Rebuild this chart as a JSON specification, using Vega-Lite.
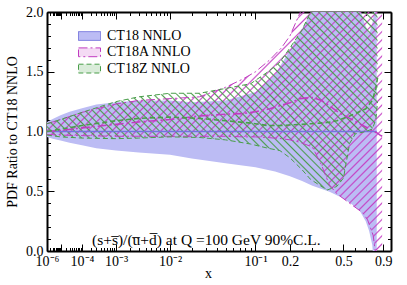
{
  "$schema": "https://vega.github.io/schema/vega-lite/v6.json",
  "width": 344,
  "height": 239,
  "autosize": {"type": "none"},
  "padding": {"left": 47, "top": 12, "right": 16, "bottom": 34},
  "background": "white",
  "config": {
    "view": {"stroke": null},
    "axis": {
      "labelFont": "Liberation Serif", "labelFontSize": 14, "labelColor": "black",
      "tickColor": "black", "domainColor": "black", "domainWidth": 2, "tickWidth": 1,
      "grid": false, "titleFont": "Liberation Serif", "titleFontWeight": "normal",
      "titleColor": "black", "titleFontSize": 14, "zindex": 1,
      "labelFlush": false, "labelOverlap": false, "labelBound": false
    }
  },
  "datasets": {
    "bands": [
      {"set": "CT18 NNLO", "x": 1e-6, "lo": 0.955, "hi": 1.08, "c": 1},
      {"set": "CT18 NNLO", "x": 3e-6, "lo": 0.94, "hi": 1.105, "c": 1},
      {"set": "CT18 NNLO", "x": 1e-5, "lo": 0.925, "hi": 1.135, "c": 1},
      {"set": "CT18 NNLO", "x": 3e-5, "lo": 0.905, "hi": 1.165, "c": 1},
      {"set": "CT18 NNLO", "x": 1e-4, "lo": 0.885, "hi": 1.195, "c": 1},
      {"set": "CT18 NNLO", "x": 3e-4, "lo": 0.86, "hi": 1.225, "c": 1},
      {"set": "CT18 NNLO", "x": 1e-3, "lo": 0.84, "hi": 1.245, "c": 1},
      {"set": "CT18 NNLO", "x": 3e-3, "lo": 0.825, "hi": 1.26, "c": 1},
      {"set": "CT18 NNLO", "x": 1e-2, "lo": 0.805, "hi": 1.26, "c": 1},
      {"set": "CT18 NNLO", "x": 2e-2, "lo": 0.775, "hi": 1.245, "c": 1},
      {"set": "CT18 NNLO", "x": 5e-2, "lo": 0.735, "hi": 1.26, "c": 1},
      {"set": "CT18 NNLO", "x": 0.1, "lo": 0.70, "hi": 1.33, "c": 1},
      {"set": "CT18 NNLO", "x": 0.15, "lo": 0.665, "hi": 1.48, "c": 1},
      {"set": "CT18 NNLO", "x": 0.2, "lo": 0.625, "hi": 1.68, "c": 1},
      {"set": "CT18 NNLO", "x": 0.25, "lo": 0.585, "hi": 1.86, "c": 1},
      {"set": "CT18 NNLO", "x": 0.3, "lo": 0.545, "hi": 2.02, "c": 1},
      {"set": "CT18 NNLO", "x": 0.4, "lo": 0.495, "hi": 2.3, "c": 1},
      {"set": "CT18 NNLO", "x": 0.5, "lo": 0.44, "hi": 2.4, "c": 1},
      {"set": "CT18 NNLO", "x": 0.6, "lo": 0.37, "hi": 2.25, "c": 1},
      {"set": "CT18 NNLO", "x": 0.645, "lo": 0.33, "hi": 2.02, "c": 1},
      {"set": "CT18 NNLO", "x": 0.7, "lo": 0.25, "hi": 1.88, "c": 1},
      {"set": "CT18 NNLO", "x": 0.735, "lo": 0.17, "hi": 1.82, "c": 1},
      {"set": "CT18 NNLO", "x": 0.77, "lo": 0.05, "hi": 1.9, "c": 1},
      {"set": "CT18 NNLO", "x": 0.8, "lo": -0.25, "hi": 2.05, "c": 1},
      {"set": "CT18 NNLO", "x": 0.82, "lo": -0.6, "hi": 2.3, "c": 1},
      {"set": "CT18A NNLO", "x": 1e-6, "lo": 0.975, "hi": 1.065, "c": 1.0},
      {"set": "CT18A NNLO", "x": 1e-5, "lo": 0.97, "hi": 1.10, "c": 1.01},
      {"set": "CT18A NNLO", "x": 1e-4, "lo": 0.965, "hi": 1.16, "c": 1.03},
      {"set": "CT18A NNLO", "x": 1e-3, "lo": 0.96, "hi": 1.23, "c": 1.06},
      {"set": "CT18A NNLO", "x": 3e-3, "lo": 0.96, "hi": 1.26, "c": 1.08},
      {"set": "CT18A NNLO", "x": 1e-2, "lo": 0.96, "hi": 1.275, "c": 1.10},
      {"set": "CT18A NNLO", "x": 2.5e-2, "lo": 0.96, "hi": 1.29, "c": 1.13},
      {"set": "CT18A NNLO", "x": 5e-2, "lo": 0.96, "hi": 1.37, "c": 1.145},
      {"set": "CT18A NNLO", "x": 0.076, "lo": 0.955, "hi": 1.44, "c": 1.15},
      {"set": "CT18A NNLO", "x": 0.1, "lo": 0.955, "hi": 1.50, "c": 1.165},
      {"set": "CT18A NNLO", "x": 0.135, "lo": 0.948, "hi": 1.60, "c": 1.19},
      {"set": "CT18A NNLO", "x": 0.17, "lo": 0.94, "hi": 1.70, "c": 1.22},
      {"set": "CT18A NNLO", "x": 0.2, "lo": 0.93, "hi": 1.80, "c": 1.24},
      {"set": "CT18A NNLO", "x": 0.24, "lo": 0.91, "hi": 1.99, "c": 1.275},
      {"set": "CT18A NNLO", "x": 0.3, "lo": 0.87, "hi": 2.2, "c": 1.285},
      {"set": "CT18A NNLO", "x": 0.35, "lo": 0.72, "hi": 2.25, "c": 1.26},
      {"set": "CT18A NNLO", "x": 0.4, "lo": 0.55, "hi": 2.25, "c": 1.215},
      {"set": "CT18A NNLO", "x": 0.45, "lo": 0.48, "hi": 2.25, "c": 1.17},
      {"set": "CT18A NNLO", "x": 0.55, "lo": 0.40, "hi": 2.25, "c": 1.11},
      {"set": "CT18A NNLO", "x": 0.67, "lo": 0.32, "hi": 2.25, "c": 1.05},
      {"set": "CT18A NNLO", "x": 0.72, "lo": 0.26, "hi": 2.25, "c": 1.03},
      {"set": "CT18A NNLO", "x": 0.78, "lo": 0.13, "hi": 2.25, "c": 1.0},
      {"set": "CT18A NNLO", "x": 0.82, "lo": -0.1, "hi": 2.25, "c": 0.99},
      {"set": "CT18A NNLO", "x": 0.86, "lo": -0.3, "hi": 2.25, "c": 0.97},
      {"set": "CT18A NNLO", "x": 0.885, "lo": -0.4, "hi": 2.25, "c": 0.96},
      {"set": "CT18Z NNLO", "x": 1e-6, "lo": 0.97, "hi": 1.065, "c": 1.0},
      {"set": "CT18Z NNLO", "x": 1e-5, "lo": 0.955, "hi": 1.10, "c": 1.02},
      {"set": "CT18Z NNLO", "x": 1e-4, "lo": 0.945, "hi": 1.16, "c": 1.05},
      {"set": "CT18Z NNLO", "x": 1e-3, "lo": 0.94, "hi": 1.25, "c": 1.09},
      {"set": "CT18Z NNLO", "x": 3e-3, "lo": 0.945, "hi": 1.29, "c": 1.11},
      {"set": "CT18Z NNLO", "x": 1e-2, "lo": 0.955, "hi": 1.32, "c": 1.12},
      {"set": "CT18Z NNLO", "x": 2.5e-2, "lo": 0.95, "hi": 1.32, "c": 1.11},
      {"set": "CT18Z NNLO", "x": 5e-2, "lo": 0.93, "hi": 1.36, "c": 1.09},
      {"set": "CT18Z NNLO", "x": 0.09, "lo": 0.895, "hi": 1.40, "c": 1.07},
      {"set": "CT18Z NNLO", "x": 0.13, "lo": 0.86, "hi": 1.50, "c": 1.05},
      {"set": "CT18Z NNLO", "x": 0.165, "lo": 0.84, "hi": 1.58, "c": 1.05},
      {"set": "CT18Z NNLO", "x": 0.2, "lo": 0.78, "hi": 1.70, "c": 1.055},
      {"set": "CT18Z NNLO", "x": 0.25, "lo": 0.68, "hi": 1.85, "c": 1.06},
      {"set": "CT18Z NNLO", "x": 0.29, "lo": 0.60, "hi": 2.0, "c": 1.065},
      {"set": "CT18Z NNLO", "x": 0.34, "lo": 0.55, "hi": 2.2, "c": 1.07},
      {"set": "CT18Z NNLO", "x": 0.384, "lo": 0.51, "hi": 2.25, "c": 1.075},
      {"set": "CT18Z NNLO", "x": 0.45, "lo": 0.54, "hi": 2.25, "c": 1.09},
      {"set": "CT18Z NNLO", "x": 0.5, "lo": 0.61, "hi": 2.25, "c": 1.11},
      {"set": "CT18Z NNLO", "x": 0.55, "lo": 0.90, "hi": 2.25, "c": 1.13},
      {"set": "CT18Z NNLO", "x": 0.6, "lo": 0.98, "hi": 2.25, "c": 1.15},
      {"set": "CT18Z NNLO", "x": 0.7, "lo": 1.0, "hi": 2.25, "c": 1.19},
      {"set": "CT18Z NNLO", "x": 0.77, "lo": 1.02, "hi": 2.25, "c": 1.26},
      {"set": "CT18Z NNLO", "x": 0.81, "lo": 1.1, "hi": 2.25, "c": 1.36},
      {"set": "CT18Z NNLO", "x": 0.83, "lo": 1.25, "hi": 2.25, "c": 1.45}
    ]
  },
  "data": {"name": "bands"},
  "resolve": {"axis": {"x": "independent", "y": "independent"}},
  "layer": [
    {
      "transform": [{"filter": "datum.set === 'CT18 NNLO'"}],
      "mark": {"type": "area", "clip": true},
      "encoding": {
        "x": {"field": "x", "type": "quantitative",
          "scale": {"type": "pow", "exponent": 0.2, "domain": [1e-6, 1], "nice": false, "zero": false},
          "axis": {"orient": "bottom", "values": [1e-6, 1e-5, 1e-4, 1e-3, 1e-2, 0.1, 0.2, 0.5, 0.9],
            "labelExpr": "datum.value < 2e-6 ? '10⁻⁶' : datum.value < 2e-5 ? '' : datum.value < 2e-4 ? '10⁻⁴' : datum.value < 2e-3 ? '10⁻³' : datum.value < 2e-2 ? '10⁻²' : datum.value < 0.15 ? '10⁻¹' : format(datum.value, '.1f')",
            "tickSize": -7, "labelPadding": 10, "title": "x", "titleX": 161, "titleY": 15, "titleBaseline": "top"}},
        "y": {"field": "lo", "type": "quantitative",
          "scale": {"domain": [0, 2], "nice": false, "zero": false},
          "axis": {"orient": "left", "values": [0, 0.5, 1, 1.5, 2], "format": ".1f", "tickSize": -7,
            "labelPadding": 11, "title": "PDF Ratio to CT18 NNLO", "titlePadding": 6}},
        "y2": {"field": "hi"},
        "fill": {"field": "set", "type": "nominal",
          "scale": {"domain": ["CT18 NNLO", "CT18A NNLO", "CT18Z NNLO"],
            "range": ["#bcbcf4", "rgba(200,70,200,0.2)", "rgba(70,160,70,0.2)"]},
          "legend": {"orient": "none", "legendX": 31, "legendY": 17, "title": null,
            "symbolType": "M-1,-0.4L1,-0.4L1,0.4L-1,0.4Z", "symbolSize": 484,
            "labelFont": "Liberation Serif", "labelFontSize": 14, "labelColor": "black",
            "labelOffset": 6, "rowPadding": 2.3, "clipHeight": 14, "padding": 0,
            "symbolStrokeWidth": 1,
            "encode": {"symbols": {"update": {
              "stroke": {"signal": "datum.value === 'CT18 NNLO' ? '#8c8ce6' : datum.value === 'CT18A NNLO' ? '#c03cc0' : '#4a9e4a'"},
              "strokeWidth": {"value": 1}
            }}}}}
      }
    },
    {
      "transform": [{"filter": "datum.set === 'CT18A NNLO'"}],
      "mark": {"type": "area", "clip": true,
        "fill": {"gradient": "linear", "x1": 0, "y1": 0, "x2": 1.03, "y2": 0.97, "stops": [
          {"offset": 0, "color": "rgba(196,64,196,0)"}, {"offset": 0.0025, "color": "rgba(196,64,196,0.95)"}, {"offset": 0.005, "color": "rgba(196,64,196,0)"},
          {"offset": 0.0125, "color": "rgba(196,64,196,0)"}, {"offset": 0.015, "color": "rgba(196,64,196,0.95)"}, {"offset": 0.0175, "color": "rgba(196,64,196,0)"},
          {"offset": 0.025, "color": "rgba(196,64,196,0)"}, {"offset": 0.0275, "color": "rgba(196,64,196,0.95)"}, {"offset": 0.03, "color": "rgba(196,64,196,0)"},
          {"offset": 0.0375, "color": "rgba(196,64,196,0)"}, {"offset": 0.04, "color": "rgba(196,64,196,0.95)"}, {"offset": 0.0425, "color": "rgba(196,64,196,0)"},
          {"offset": 0.05, "color": "rgba(196,64,196,0)"}, {"offset": 0.0525, "color": "rgba(196,64,196,0.95)"}, {"offset": 0.055, "color": "rgba(196,64,196,0)"},
          {"offset": 0.0625, "color": "rgba(196,64,196,0)"}, {"offset": 0.065, "color": "rgba(196,64,196,0.95)"}, {"offset": 0.0675, "color": "rgba(196,64,196,0)"},
          {"offset": 0.075, "color": "rgba(196,64,196,0)"}, {"offset": 0.0775, "color": "rgba(196,64,196,0.95)"}, {"offset": 0.08, "color": "rgba(196,64,196,0)"},
          {"offset": 0.0875, "color": "rgba(196,64,196,0)"}, {"offset": 0.09, "color": "rgba(196,64,196,0.95)"}, {"offset": 0.0925, "color": "rgba(196,64,196,0)"},
          {"offset": 0.1, "color": "rgba(196,64,196,0)"}, {"offset": 0.1025, "color": "rgba(196,64,196,0.95)"}, {"offset": 0.105, "color": "rgba(196,64,196,0)"},
          {"offset": 0.1125, "color": "rgba(196,64,196,0)"}, {"offset": 0.115, "color": "rgba(196,64,196,0.95)"}, {"offset": 0.1175, "color": "rgba(196,64,196,0)"},
          {"offset": 0.125, "color": "rgba(196,64,196,0)"}, {"offset": 0.1275, "color": "rgba(196,64,196,0.95)"}, {"offset": 0.13, "color": "rgba(196,64,196,0)"},
          {"offset": 0.1375, "color": "rgba(196,64,196,0)"}, {"offset": 0.14, "color": "rgba(196,64,196,0.95)"}, {"offset": 0.1425, "color": "rgba(196,64,196,0)"},
          {"offset": 0.15, "color": "rgba(196,64,196,0)"}, {"offset": 0.1525, "color": "rgba(196,64,196,0.95)"}, {"offset": 0.155, "color": "rgba(196,64,196,0)"},
          {"offset": 0.1625, "color": "rgba(196,64,196,0)"}, {"offset": 0.165, "color": "rgba(196,64,196,0.95)"}, {"offset": 0.1675, "color": "rgba(196,64,196,0)"},
          {"offset": 0.175, "color": "rgba(196,64,196,0)"}, {"offset": 0.1775, "color": "rgba(196,64,196,0.95)"}, {"offset": 0.18, "color": "rgba(196,64,196,0)"},
          {"offset": 0.1875, "color": "rgba(196,64,196,0)"}, {"offset": 0.19, "color": "rgba(196,64,196,0.95)"}, {"offset": 0.1925, "color": "rgba(196,64,196,0)"},
          {"offset": 0.2, "color": "rgba(196,64,196,0)"}, {"offset": 0.2025, "color": "rgba(196,64,196,0.95)"}, {"offset": 0.205, "color": "rgba(196,64,196,0)"},
          {"offset": 0.2125, "color": "rgba(196,64,196,0)"}, {"offset": 0.215, "color": "rgba(196,64,196,0.95)"}, {"offset": 0.2175, "color": "rgba(196,64,196,0)"},
          {"offset": 0.225, "color": "rgba(196,64,196,0)"}, {"offset": 0.2275, "color": "rgba(196,64,196,0.95)"}, {"offset": 0.23, "color": "rgba(196,64,196,0)"},
          {"offset": 0.2375, "color": "rgba(196,64,196,0)"}, {"offset": 0.24, "color": "rgba(196,64,196,0.95)"}, {"offset": 0.2425, "color": "rgba(196,64,196,0)"},
          {"offset": 0.25, "color": "rgba(196,64,196,0)"}, {"offset": 0.2525, "color": "rgba(196,64,196,0.95)"}, {"offset": 0.255, "color": "rgba(196,64,196,0)"},
          {"offset": 0.2625, "color": "rgba(196,64,196,0)"}, {"offset": 0.265, "color": "rgba(196,64,196,0.95)"}, {"offset": 0.2675, "color": "rgba(196,64,196,0)"},
          {"offset": 0.275, "color": "rgba(196,64,196,0)"}, {"offset": 0.2775, "color": "rgba(196,64,196,0.95)"}, {"offset": 0.28, "color": "rgba(196,64,196,0)"},
          {"offset": 0.2875, "color": "rgba(196,64,196,0)"}, {"offset": 0.29, "color": "rgba(196,64,196,0.95)"}, {"offset": 0.2925, "color": "rgba(196,64,196,0)"},
          {"offset": 0.3, "color": "rgba(196,64,196,0)"}, {"offset": 0.3025, "color": "rgba(196,64,196,0.95)"}, {"offset": 0.305, "color": "rgba(196,64,196,0)"},
          {"offset": 0.3125, "color": "rgba(196,64,196,0)"}, {"offset": 0.315, "color": "rgba(196,64,196,0.95)"}, {"offset": 0.3175, "color": "rgba(196,64,196,0)"},
          {"offset": 0.325, "color": "rgba(196,64,196,0)"}, {"offset": 0.3275, "color": "rgba(196,64,196,0.95)"}, {"offset": 0.33, "color": "rgba(196,64,196,0)"},
          {"offset": 0.3375, "color": "rgba(196,64,196,0)"}, {"offset": 0.34, "color": "rgba(196,64,196,0.95)"}, {"offset": 0.3425, "color": "rgba(196,64,196,0)"},
          {"offset": 0.35, "color": "rgba(196,64,196,0)"}, {"offset": 0.3525, "color": "rgba(196,64,196,0.95)"}, {"offset": 0.355, "color": "rgba(196,64,196,0)"},
          {"offset": 0.3625, "color": "rgba(196,64,196,0)"}, {"offset": 0.365, "color": "rgba(196,64,196,0.95)"}, {"offset": 0.3675, "color": "rgba(196,64,196,0)"},
          {"offset": 0.375, "color": "rgba(196,64,196,0)"}, {"offset": 0.3775, "color": "rgba(196,64,196,0.95)"}, {"offset": 0.38, "color": "rgba(196,64,196,0)"},
          {"offset": 0.3875, "color": "rgba(196,64,196,0)"}, {"offset": 0.39, "color": "rgba(196,64,196,0.95)"}, {"offset": 0.3925, "color": "rgba(196,64,196,0)"},
          {"offset": 0.4, "color": "rgba(196,64,196,0)"}, {"offset": 0.4025, "color": "rgba(196,64,196,0.95)"}, {"offset": 0.405, "color": "rgba(196,64,196,0)"},
          {"offset": 0.4125, "color": "rgba(196,64,196,0)"}, {"offset": 0.415, "color": "rgba(196,64,196,0.95)"}, {"offset": 0.4175, "color": "rgba(196,64,196,0)"},
          {"offset": 0.425, "color": "rgba(196,64,196,0)"}, {"offset": 0.4275, "color": "rgba(196,64,196,0.95)"}, {"offset": 0.43, "color": "rgba(196,64,196,0)"},
          {"offset": 0.4375, "color": "rgba(196,64,196,0)"}, {"offset": 0.44, "color": "rgba(196,64,196,0.95)"}, {"offset": 0.4425, "color": "rgba(196,64,196,0)"},
          {"offset": 0.45, "color": "rgba(196,64,196,0)"}, {"offset": 0.4525, "color": "rgba(196,64,196,0.95)"}, {"offset": 0.455, "color": "rgba(196,64,196,0)"},
          {"offset": 0.4625, "color": "rgba(196,64,196,0)"}, {"offset": 0.465, "color": "rgba(196,64,196,0.95)"}, {"offset": 0.4675, "color": "rgba(196,64,196,0)"},
          {"offset": 0.475, "color": "rgba(196,64,196,0)"}, {"offset": 0.4775, "color": "rgba(196,64,196,0.95)"}, {"offset": 0.48, "color": "rgba(196,64,196,0)"},
          {"offset": 0.4875, "color": "rgba(196,64,196,0)"}, {"offset": 0.49, "color": "rgba(196,64,196,0.95)"}, {"offset": 0.4925, "color": "rgba(196,64,196,0)"},
          {"offset": 0.5, "color": "rgba(196,64,196,0)"}, {"offset": 0.5025, "color": "rgba(196,64,196,0.95)"}, {"offset": 0.505, "color": "rgba(196,64,196,0)"},
          {"offset": 0.5125, "color": "rgba(196,64,196,0)"}, {"offset": 0.515, "color": "rgba(196,64,196,0.95)"}, {"offset": 0.5175, "color": "rgba(196,64,196,0)"},
          {"offset": 0.525, "color": "rgba(196,64,196,0)"}, {"offset": 0.5275, "color": "rgba(196,64,196,0.95)"}, {"offset": 0.53, "color": "rgba(196,64,196,0)"},
          {"offset": 0.5375, "color": "rgba(196,64,196,0)"}, {"offset": 0.54, "color": "rgba(196,64,196,0.95)"}, {"offset": 0.5425, "color": "rgba(196,64,196,0)"},
          {"offset": 0.55, "color": "rgba(196,64,196,0)"}, {"offset": 0.5525, "color": "rgba(196,64,196,0.95)"}, {"offset": 0.555, "color": "rgba(196,64,196,0)"},
          {"offset": 0.5625, "color": "rgba(196,64,196,0)"}, {"offset": 0.565, "color": "rgba(196,64,196,0.95)"}, {"offset": 0.5675, "color": "rgba(196,64,196,0)"},
          {"offset": 0.575, "color": "rgba(196,64,196,0)"}, {"offset": 0.5775, "color": "rgba(196,64,196,0.95)"}, {"offset": 0.58, "color": "rgba(196,64,196,0)"},
          {"offset": 0.5875, "color": "rgba(196,64,196,0)"}, {"offset": 0.59, "color": "rgba(196,64,196,0.95)"}, {"offset": 0.5925, "color": "rgba(196,64,196,0)"},
          {"offset": 0.6, "color": "rgba(196,64,196,0)"}, {"offset": 0.6025, "color": "rgba(196,64,196,0.95)"}, {"offset": 0.605, "color": "rgba(196,64,196,0)"},
          {"offset": 0.6125, "color": "rgba(196,64,196,0)"}, {"offset": 0.615, "color": "rgba(196,64,196,0.95)"}, {"offset": 0.6175, "color": "rgba(196,64,196,0)"},
          {"offset": 0.625, "color": "rgba(196,64,196,0)"}, {"offset": 0.6275, "color": "rgba(196,64,196,0.95)"}, {"offset": 0.63, "color": "rgba(196,64,196,0)"},
          {"offset": 0.6375, "color": "rgba(196,64,196,0)"}, {"offset": 0.64, "color": "rgba(196,64,196,0.95)"}, {"offset": 0.6425, "color": "rgba(196,64,196,0)"},
          {"offset": 0.65, "color": "rgba(196,64,196,0)"}, {"offset": 0.6525, "color": "rgba(196,64,196,0.95)"}, {"offset": 0.655, "color": "rgba(196,64,196,0)"},
          {"offset": 0.6625, "color": "rgba(196,64,196,0)"}, {"offset": 0.665, "color": "rgba(196,64,196,0.95)"}, {"offset": 0.6675, "color": "rgba(196,64,196,0)"},
          {"offset": 0.675, "color": "rgba(196,64,196,0)"}, {"offset": 0.6775, "color": "rgba(196,64,196,0.95)"}, {"offset": 0.68, "color": "rgba(196,64,196,0)"},
          {"offset": 0.6875, "color": "rgba(196,64,196,0)"}, {"offset": 0.69, "color": "rgba(196,64,196,0.95)"}, {"offset": 0.6925, "color": "rgba(196,64,196,0)"},
          {"offset": 0.7, "color": "rgba(196,64,196,0)"}, {"offset": 0.7025, "color": "rgba(196,64,196,0.95)"}, {"offset": 0.705, "color": "rgba(196,64,196,0)"},
          {"offset": 0.7125, "color": "rgba(196,64,196,0)"}, {"offset": 0.715, "color": "rgba(196,64,196,0.95)"}, {"offset": 0.7175, "color": "rgba(196,64,196,0)"},
          {"offset": 0.725, "color": "rgba(196,64,196,0)"}, {"offset": 0.7275, "color": "rgba(196,64,196,0.95)"}, {"offset": 0.73, "color": "rgba(196,64,196,0)"},
          {"offset": 0.7375, "color": "rgba(196,64,196,0)"}, {"offset": 0.74, "color": "rgba(196,64,196,0.95)"}, {"offset": 0.7425, "color": "rgba(196,64,196,0)"},
          {"offset": 0.75, "color": "rgba(196,64,196,0)"}, {"offset": 0.7525, "color": "rgba(196,64,196,0.95)"}, {"offset": 0.755, "color": "rgba(196,64,196,0)"},
          {"offset": 0.7625, "color": "rgba(196,64,196,0)"}, {"offset": 0.765, "color": "rgba(196,64,196,0.95)"}, {"offset": 0.7675, "color": "rgba(196,64,196,0)"},
          {"offset": 0.775, "color": "rgba(196,64,196,0)"}, {"offset": 0.7775, "color": "rgba(196,64,196,0.95)"}, {"offset": 0.78, "color": "rgba(196,64,196,0)"},
          {"offset": 0.7875, "color": "rgba(196,64,196,0)"}, {"offset": 0.79, "color": "rgba(196,64,196,0.95)"}, {"offset": 0.7925, "color": "rgba(196,64,196,0)"},
          {"offset": 0.8, "color": "rgba(196,64,196,0)"}, {"offset": 0.8025, "color": "rgba(196,64,196,0.95)"}, {"offset": 0.805, "color": "rgba(196,64,196,0)"},
          {"offset": 0.8125, "color": "rgba(196,64,196,0)"}, {"offset": 0.815, "color": "rgba(196,64,196,0.95)"}, {"offset": 0.8175, "color": "rgba(196,64,196,0)"},
          {"offset": 0.825, "color": "rgba(196,64,196,0)"}, {"offset": 0.8275, "color": "rgba(196,64,196,0.95)"}, {"offset": 0.83, "color": "rgba(196,64,196,0)"},
          {"offset": 0.8375, "color": "rgba(196,64,196,0)"}, {"offset": 0.84, "color": "rgba(196,64,196,0.95)"}, {"offset": 0.8425, "color": "rgba(196,64,196,0)"},
          {"offset": 0.85, "color": "rgba(196,64,196,0)"}, {"offset": 0.8525, "color": "rgba(196,64,196,0.95)"}, {"offset": 0.855, "color": "rgba(196,64,196,0)"},
          {"offset": 0.8625, "color": "rgba(196,64,196,0)"}, {"offset": 0.865, "color": "rgba(196,64,196,0.95)"}, {"offset": 0.8675, "color": "rgba(196,64,196,0)"},
          {"offset": 0.875, "color": "rgba(196,64,196,0)"}, {"offset": 0.8775, "color": "rgba(196,64,196,0.95)"}, {"offset": 0.88, "color": "rgba(196,64,196,0)"},
          {"offset": 0.8875, "color": "rgba(196,64,196,0)"}, {"offset": 0.89, "color": "rgba(196,64,196,0.95)"}, {"offset": 0.8925, "color": "rgba(196,64,196,0)"},
          {"offset": 0.9, "color": "rgba(196,64,196,0)"}, {"offset": 0.9025, "color": "rgba(196,64,196,0.95)"}, {"offset": 0.905, "color": "rgba(196,64,196,0)"},
          {"offset": 0.9125, "color": "rgba(196,64,196,0)"}, {"offset": 0.915, "color": "rgba(196,64,196,0.95)"}, {"offset": 0.9175, "color": "rgba(196,64,196,0)"},
          {"offset": 0.925, "color": "rgba(196,64,196,0)"}, {"offset": 0.9275, "color": "rgba(196,64,196,0.95)"}, {"offset": 0.93, "color": "rgba(196,64,196,0)"},
          {"offset": 0.9375, "color": "rgba(196,64,196,0)"}, {"offset": 0.94, "color": "rgba(196,64,196,0.95)"}, {"offset": 0.9425, "color": "rgba(196,64,196,0)"},
          {"offset": 0.95, "color": "rgba(196,64,196,0)"}, {"offset": 0.9525, "color": "rgba(196,64,196,0.95)"}, {"offset": 0.955, "color": "rgba(196,64,196,0)"},
          {"offset": 0.9625, "color": "rgba(196,64,196,0)"}, {"offset": 0.965, "color": "rgba(196,64,196,0.95)"}, {"offset": 0.9675, "color": "rgba(196,64,196,0)"},
          {"offset": 0.975, "color": "rgba(196,64,196,0)"}, {"offset": 0.9775, "color": "rgba(196,64,196,0.95)"}, {"offset": 0.98, "color": "rgba(196,64,196,0)"},
          {"offset": 0.9875, "color": "rgba(196,64,196,0)"}, {"offset": 0.99, "color": "rgba(196,64,196,0.95)"}, {"offset": 0.9925, "color": "rgba(196,64,196,0)"}
        ]}},
      "encoding": {
        "x": {"field": "x", "type": "quantitative",
          "axis": {"orient": "bottom", "values": [2e-6, 3e-6, 4e-6, 5e-6, 6e-6, 7e-6, 8e-6, 9e-6, 2e-5, 3e-5, 4e-5, 5e-5, 6e-5, 7e-5, 8e-5, 9e-5, 2e-4, 3e-4, 4e-4, 5e-4, 6e-4, 7e-4, 8e-4, 9e-4, 2e-3, 3e-3, 4e-3, 5e-3, 6e-3, 7e-3, 8e-3, 9e-3, 0.02, 0.03, 0.04, 0.05, 0.06, 0.07, 0.08, 0.09, 0.3, 0.4, 0.6, 0.7, 0.8],
            "labels": false, "tickSize": -3.5, "domain": false, "title": null}},
        "y": {"field": "lo", "type": "quantitative",
          "axis": {"orient": "left", "values": [0.1, 0.2, 0.3, 0.4, 0.6, 0.7, 0.8, 0.9, 1.1, 1.2, 1.3, 1.4, 1.6, 1.7, 1.8, 1.9],
            "labels": false, "tickSize": -3.5, "domain": false, "title": null}},
        "y2": {"field": "hi"}
      }
    },
    {
      "transform": [{"filter": "datum.set === 'CT18Z NNLO'"}],
      "mark": {"type": "area", "clip": true,
        "fill": {"gradient": "linear", "x1": 0, "y1": 1, "x2": 1.34, "y2": 0.16, "stops": [
          {"offset": 0, "color": "rgba(72,156,72,0)"}, {"offset": 0.0025, "color": "rgba(72,156,72,0.95)"}, {"offset": 0.005, "color": "rgba(72,156,72,0)"},
          {"offset": 0.0125, "color": "rgba(72,156,72,0)"}, {"offset": 0.015, "color": "rgba(72,156,72,0.95)"}, {"offset": 0.0175, "color": "rgba(72,156,72,0)"},
          {"offset": 0.025, "color": "rgba(72,156,72,0)"}, {"offset": 0.0275, "color": "rgba(72,156,72,0.95)"}, {"offset": 0.03, "color": "rgba(72,156,72,0)"},
          {"offset": 0.0375, "color": "rgba(72,156,72,0)"}, {"offset": 0.04, "color": "rgba(72,156,72,0.95)"}, {"offset": 0.0425, "color": "rgba(72,156,72,0)"},
          {"offset": 0.05, "color": "rgba(72,156,72,0)"}, {"offset": 0.0525, "color": "rgba(72,156,72,0.95)"}, {"offset": 0.055, "color": "rgba(72,156,72,0)"},
          {"offset": 0.0625, "color": "rgba(72,156,72,0)"}, {"offset": 0.065, "color": "rgba(72,156,72,0.95)"}, {"offset": 0.0675, "color": "rgba(72,156,72,0)"},
          {"offset": 0.075, "color": "rgba(72,156,72,0)"}, {"offset": 0.0775, "color": "rgba(72,156,72,0.95)"}, {"offset": 0.08, "color": "rgba(72,156,72,0)"},
          {"offset": 0.0875, "color": "rgba(72,156,72,0)"}, {"offset": 0.09, "color": "rgba(72,156,72,0.95)"}, {"offset": 0.0925, "color": "rgba(72,156,72,0)"},
          {"offset": 0.1, "color": "rgba(72,156,72,0)"}, {"offset": 0.1025, "color": "rgba(72,156,72,0.95)"}, {"offset": 0.105, "color": "rgba(72,156,72,0)"},
          {"offset": 0.1125, "color": "rgba(72,156,72,0)"}, {"offset": 0.115, "color": "rgba(72,156,72,0.95)"}, {"offset": 0.1175, "color": "rgba(72,156,72,0)"},
          {"offset": 0.125, "color": "rgba(72,156,72,0)"}, {"offset": 0.1275, "color": "rgba(72,156,72,0.95)"}, {"offset": 0.13, "color": "rgba(72,156,72,0)"},
          {"offset": 0.1375, "color": "rgba(72,156,72,0)"}, {"offset": 0.14, "color": "rgba(72,156,72,0.95)"}, {"offset": 0.1425, "color": "rgba(72,156,72,0)"},
          {"offset": 0.15, "color": "rgba(72,156,72,0)"}, {"offset": 0.1525, "color": "rgba(72,156,72,0.95)"}, {"offset": 0.155, "color": "rgba(72,156,72,0)"},
          {"offset": 0.1625, "color": "rgba(72,156,72,0)"}, {"offset": 0.165, "color": "rgba(72,156,72,0.95)"}, {"offset": 0.1675, "color": "rgba(72,156,72,0)"},
          {"offset": 0.175, "color": "rgba(72,156,72,0)"}, {"offset": 0.1775, "color": "rgba(72,156,72,0.95)"}, {"offset": 0.18, "color": "rgba(72,156,72,0)"},
          {"offset": 0.1875, "color": "rgba(72,156,72,0)"}, {"offset": 0.19, "color": "rgba(72,156,72,0.95)"}, {"offset": 0.1925, "color": "rgba(72,156,72,0)"},
          {"offset": 0.2, "color": "rgba(72,156,72,0)"}, {"offset": 0.2025, "color": "rgba(72,156,72,0.95)"}, {"offset": 0.205, "color": "rgba(72,156,72,0)"},
          {"offset": 0.2125, "color": "rgba(72,156,72,0)"}, {"offset": 0.215, "color": "rgba(72,156,72,0.95)"}, {"offset": 0.2175, "color": "rgba(72,156,72,0)"},
          {"offset": 0.225, "color": "rgba(72,156,72,0)"}, {"offset": 0.2275, "color": "rgba(72,156,72,0.95)"}, {"offset": 0.23, "color": "rgba(72,156,72,0)"},
          {"offset": 0.2375, "color": "rgba(72,156,72,0)"}, {"offset": 0.24, "color": "rgba(72,156,72,0.95)"}, {"offset": 0.2425, "color": "rgba(72,156,72,0)"},
          {"offset": 0.25, "color": "rgba(72,156,72,0)"}, {"offset": 0.2525, "color": "rgba(72,156,72,0.95)"}, {"offset": 0.255, "color": "rgba(72,156,72,0)"},
          {"offset": 0.2625, "color": "rgba(72,156,72,0)"}, {"offset": 0.265, "color": "rgba(72,156,72,0.95)"}, {"offset": 0.2675, "color": "rgba(72,156,72,0)"},
          {"offset": 0.275, "color": "rgba(72,156,72,0)"}, {"offset": 0.2775, "color": "rgba(72,156,72,0.95)"}, {"offset": 0.28, "color": "rgba(72,156,72,0)"},
          {"offset": 0.2875, "color": "rgba(72,156,72,0)"}, {"offset": 0.29, "color": "rgba(72,156,72,0.95)"}, {"offset": 0.2925, "color": "rgba(72,156,72,0)"},
          {"offset": 0.3, "color": "rgba(72,156,72,0)"}, {"offset": 0.3025, "color": "rgba(72,156,72,0.95)"}, {"offset": 0.305, "color": "rgba(72,156,72,0)"},
          {"offset": 0.3125, "color": "rgba(72,156,72,0)"}, {"offset": 0.315, "color": "rgba(72,156,72,0.95)"}, {"offset": 0.3175, "color": "rgba(72,156,72,0)"},
          {"offset": 0.325, "color": "rgba(72,156,72,0)"}, {"offset": 0.3275, "color": "rgba(72,156,72,0.95)"}, {"offset": 0.33, "color": "rgba(72,156,72,0)"},
          {"offset": 0.3375, "color": "rgba(72,156,72,0)"}, {"offset": 0.34, "color": "rgba(72,156,72,0.95)"}, {"offset": 0.3425, "color": "rgba(72,156,72,0)"},
          {"offset": 0.35, "color": "rgba(72,156,72,0)"}, {"offset": 0.3525, "color": "rgba(72,156,72,0.95)"}, {"offset": 0.355, "color": "rgba(72,156,72,0)"},
          {"offset": 0.3625, "color": "rgba(72,156,72,0)"}, {"offset": 0.365, "color": "rgba(72,156,72,0.95)"}, {"offset": 0.3675, "color": "rgba(72,156,72,0)"},
          {"offset": 0.375, "color": "rgba(72,156,72,0)"}, {"offset": 0.3775, "color": "rgba(72,156,72,0.95)"}, {"offset": 0.38, "color": "rgba(72,156,72,0)"},
          {"offset": 0.3875, "color": "rgba(72,156,72,0)"}, {"offset": 0.39, "color": "rgba(72,156,72,0.95)"}, {"offset": 0.3925, "color": "rgba(72,156,72,0)"},
          {"offset": 0.4, "color": "rgba(72,156,72,0)"}, {"offset": 0.4025, "color": "rgba(72,156,72,0.95)"}, {"offset": 0.405, "color": "rgba(72,156,72,0)"},
          {"offset": 0.4125, "color": "rgba(72,156,72,0)"}, {"offset": 0.415, "color": "rgba(72,156,72,0.95)"}, {"offset": 0.4175, "color": "rgba(72,156,72,0)"},
          {"offset": 0.425, "color": "rgba(72,156,72,0)"}, {"offset": 0.4275, "color": "rgba(72,156,72,0.95)"}, {"offset": 0.43, "color": "rgba(72,156,72,0)"},
          {"offset": 0.4375, "color": "rgba(72,156,72,0)"}, {"offset": 0.44, "color": "rgba(72,156,72,0.95)"}, {"offset": 0.4425, "color": "rgba(72,156,72,0)"},
          {"offset": 0.45, "color": "rgba(72,156,72,0)"}, {"offset": 0.4525, "color": "rgba(72,156,72,0.95)"}, {"offset": 0.455, "color": "rgba(72,156,72,0)"},
          {"offset": 0.4625, "color": "rgba(72,156,72,0)"}, {"offset": 0.465, "color": "rgba(72,156,72,0.95)"}, {"offset": 0.4675, "color": "rgba(72,156,72,0)"},
          {"offset": 0.475, "color": "rgba(72,156,72,0)"}, {"offset": 0.4775, "color": "rgba(72,156,72,0.95)"}, {"offset": 0.48, "color": "rgba(72,156,72,0)"},
          {"offset": 0.4875, "color": "rgba(72,156,72,0)"}, {"offset": 0.49, "color": "rgba(72,156,72,0.95)"}, {"offset": 0.4925, "color": "rgba(72,156,72,0)"},
          {"offset": 0.5, "color": "rgba(72,156,72,0)"}, {"offset": 0.5025, "color": "rgba(72,156,72,0.95)"}, {"offset": 0.505, "color": "rgba(72,156,72,0)"},
          {"offset": 0.5125, "color": "rgba(72,156,72,0)"}, {"offset": 0.515, "color": "rgba(72,156,72,0.95)"}, {"offset": 0.5175, "color": "rgba(72,156,72,0)"},
          {"offset": 0.525, "color": "rgba(72,156,72,0)"}, {"offset": 0.5275, "color": "rgba(72,156,72,0.95)"}, {"offset": 0.53, "color": "rgba(72,156,72,0)"},
          {"offset": 0.5375, "color": "rgba(72,156,72,0)"}, {"offset": 0.54, "color": "rgba(72,156,72,0.95)"}, {"offset": 0.5425, "color": "rgba(72,156,72,0)"},
          {"offset": 0.55, "color": "rgba(72,156,72,0)"}, {"offset": 0.5525, "color": "rgba(72,156,72,0.95)"}, {"offset": 0.555, "color": "rgba(72,156,72,0)"},
          {"offset": 0.5625, "color": "rgba(72,156,72,0)"}, {"offset": 0.565, "color": "rgba(72,156,72,0.95)"}, {"offset": 0.5675, "color": "rgba(72,156,72,0)"},
          {"offset": 0.575, "color": "rgba(72,156,72,0)"}, {"offset": 0.5775, "color": "rgba(72,156,72,0.95)"}, {"offset": 0.58, "color": "rgba(72,156,72,0)"},
          {"offset": 0.5875, "color": "rgba(72,156,72,0)"}, {"offset": 0.59, "color": "rgba(72,156,72,0.95)"}, {"offset": 0.5925, "color": "rgba(72,156,72,0)"},
          {"offset": 0.6, "color": "rgba(72,156,72,0)"}, {"offset": 0.6025, "color": "rgba(72,156,72,0.95)"}, {"offset": 0.605, "color": "rgba(72,156,72,0)"},
          {"offset": 0.6125, "color": "rgba(72,156,72,0)"}, {"offset": 0.615, "color": "rgba(72,156,72,0.95)"}, {"offset": 0.6175, "color": "rgba(72,156,72,0)"},
          {"offset": 0.625, "color": "rgba(72,156,72,0)"}, {"offset": 0.6275, "color": "rgba(72,156,72,0.95)"}, {"offset": 0.63, "color": "rgba(72,156,72,0)"},
          {"offset": 0.6375, "color": "rgba(72,156,72,0)"}, {"offset": 0.64, "color": "rgba(72,156,72,0.95)"}, {"offset": 0.6425, "color": "rgba(72,156,72,0)"},
          {"offset": 0.65, "color": "rgba(72,156,72,0)"}, {"offset": 0.6525, "color": "rgba(72,156,72,0.95)"}, {"offset": 0.655, "color": "rgba(72,156,72,0)"},
          {"offset": 0.6625, "color": "rgba(72,156,72,0)"}, {"offset": 0.665, "color": "rgba(72,156,72,0.95)"}, {"offset": 0.6675, "color": "rgba(72,156,72,0)"},
          {"offset": 0.675, "color": "rgba(72,156,72,0)"}, {"offset": 0.6775, "color": "rgba(72,156,72,0.95)"}, {"offset": 0.68, "color": "rgba(72,156,72,0)"},
          {"offset": 0.6875, "color": "rgba(72,156,72,0)"}, {"offset": 0.69, "color": "rgba(72,156,72,0.95)"}, {"offset": 0.6925, "color": "rgba(72,156,72,0)"},
          {"offset": 0.7, "color": "rgba(72,156,72,0)"}, {"offset": 0.7025, "color": "rgba(72,156,72,0.95)"}, {"offset": 0.705, "color": "rgba(72,156,72,0)"},
          {"offset": 0.7125, "color": "rgba(72,156,72,0)"}, {"offset": 0.715, "color": "rgba(72,156,72,0.95)"}, {"offset": 0.7175, "color": "rgba(72,156,72,0)"},
          {"offset": 0.725, "color": "rgba(72,156,72,0)"}, {"offset": 0.7275, "color": "rgba(72,156,72,0.95)"}, {"offset": 0.73, "color": "rgba(72,156,72,0)"},
          {"offset": 0.7375, "color": "rgba(72,156,72,0)"}, {"offset": 0.74, "color": "rgba(72,156,72,0.95)"}, {"offset": 0.7425, "color": "rgba(72,156,72,0)"},
          {"offset": 0.75, "color": "rgba(72,156,72,0)"}, {"offset": 0.7525, "color": "rgba(72,156,72,0.95)"}, {"offset": 0.755, "color": "rgba(72,156,72,0)"},
          {"offset": 0.7625, "color": "rgba(72,156,72,0)"}, {"offset": 0.765, "color": "rgba(72,156,72,0.95)"}, {"offset": 0.7675, "color": "rgba(72,156,72,0)"},
          {"offset": 0.775, "color": "rgba(72,156,72,0)"}, {"offset": 0.7775, "color": "rgba(72,156,72,0.95)"}, {"offset": 0.78, "color": "rgba(72,156,72,0)"},
          {"offset": 0.7875, "color": "rgba(72,156,72,0)"}, {"offset": 0.79, "color": "rgba(72,156,72,0.95)"}, {"offset": 0.7925, "color": "rgba(72,156,72,0)"},
          {"offset": 0.8, "color": "rgba(72,156,72,0)"}, {"offset": 0.8025, "color": "rgba(72,156,72,0.95)"}, {"offset": 0.805, "color": "rgba(72,156,72,0)"},
          {"offset": 0.8125, "color": "rgba(72,156,72,0)"}, {"offset": 0.815, "color": "rgba(72,156,72,0.95)"}, {"offset": 0.8175, "color": "rgba(72,156,72,0)"},
          {"offset": 0.825, "color": "rgba(72,156,72,0)"}, {"offset": 0.8275, "color": "rgba(72,156,72,0.95)"}, {"offset": 0.83, "color": "rgba(72,156,72,0)"},
          {"offset": 0.8375, "color": "rgba(72,156,72,0)"}, {"offset": 0.84, "color": "rgba(72,156,72,0.95)"}, {"offset": 0.8425, "color": "rgba(72,156,72,0)"},
          {"offset": 0.85, "color": "rgba(72,156,72,0)"}, {"offset": 0.8525, "color": "rgba(72,156,72,0.95)"}, {"offset": 0.855, "color": "rgba(72,156,72,0)"},
          {"offset": 0.8625, "color": "rgba(72,156,72,0)"}, {"offset": 0.865, "color": "rgba(72,156,72,0.95)"}, {"offset": 0.8675, "color": "rgba(72,156,72,0)"},
          {"offset": 0.875, "color": "rgba(72,156,72,0)"}, {"offset": 0.8775, "color": "rgba(72,156,72,0.95)"}, {"offset": 0.88, "color": "rgba(72,156,72,0)"},
          {"offset": 0.8875, "color": "rgba(72,156,72,0)"}, {"offset": 0.89, "color": "rgba(72,156,72,0.95)"}, {"offset": 0.8925, "color": "rgba(72,156,72,0)"},
          {"offset": 0.9, "color": "rgba(72,156,72,0)"}, {"offset": 0.9025, "color": "rgba(72,156,72,0.95)"}, {"offset": 0.905, "color": "rgba(72,156,72,0)"},
          {"offset": 0.9125, "color": "rgba(72,156,72,0)"}, {"offset": 0.915, "color": "rgba(72,156,72,0.95)"}, {"offset": 0.9175, "color": "rgba(72,156,72,0)"},
          {"offset": 0.925, "color": "rgba(72,156,72,0)"}, {"offset": 0.9275, "color": "rgba(72,156,72,0.95)"}, {"offset": 0.93, "color": "rgba(72,156,72,0)"},
          {"offset": 0.9375, "color": "rgba(72,156,72,0)"}, {"offset": 0.94, "color": "rgba(72,156,72,0.95)"}, {"offset": 0.9425, "color": "rgba(72,156,72,0)"},
          {"offset": 0.95, "color": "rgba(72,156,72,0)"}, {"offset": 0.9525, "color": "rgba(72,156,72,0.95)"}, {"offset": 0.955, "color": "rgba(72,156,72,0)"},
          {"offset": 0.9625, "color": "rgba(72,156,72,0)"}, {"offset": 0.965, "color": "rgba(72,156,72,0.95)"}, {"offset": 0.9675, "color": "rgba(72,156,72,0)"},
          {"offset": 0.975, "color": "rgba(72,156,72,0)"}, {"offset": 0.9775, "color": "rgba(72,156,72,0.95)"}, {"offset": 0.98, "color": "rgba(72,156,72,0)"},
          {"offset": 0.9875, "color": "rgba(72,156,72,0)"}, {"offset": 0.99, "color": "rgba(72,156,72,0.95)"}, {"offset": 0.9925, "color": "rgba(72,156,72,0)"}
        ]}},
      "encoding": {
        "x": {"field": "x", "type": "quantitative",
          "axis": {"orient": "top", "values": [1e-6, 1e-5, 1e-4, 1e-3, 1e-2, 0.1, 0.2, 0.5, 0.9],
            "labels": false, "tickSize": -7, "title": null}},
        "y": {"field": "lo", "type": "quantitative",
          "axis": {"orient": "right", "values": [0, 0.5, 1, 1.5, 2], "labels": false, "tickSize": -7, "title": null}},
        "y2": {"field": "hi"}
      }
    },
    {
      "mark": {"type": "line", "clip": true, "strokeWidth": 1.6},
      "encoding": {
        "x": {"field": "x", "type": "quantitative",
          "axis": {"orient": "top", "values": [2e-6, 3e-6, 4e-6, 5e-6, 6e-6, 7e-6, 8e-6, 9e-6, 2e-5, 3e-5, 4e-5, 5e-5, 6e-5, 7e-5, 8e-5, 9e-5, 2e-4, 3e-4, 4e-4, 5e-4, 6e-4, 7e-4, 8e-4, 9e-4, 2e-3, 3e-3, 4e-3, 5e-3, 6e-3, 7e-3, 8e-3, 9e-3, 0.02, 0.03, 0.04, 0.05, 0.06, 0.07, 0.08, 0.09, 0.3, 0.4, 0.6, 0.7, 0.8],
            "labels": false, "tickSize": -3.5, "domain": false, "title": null}},
        "y": {"field": "c", "type": "quantitative",
          "axis": {"orient": "right", "values": [0.1, 0.2, 0.3, 0.4, 0.6, 0.7, 0.8, 0.9, 1.1, 1.2, 1.3, 1.4, 1.6, 1.7, 1.8, 1.9],
            "labels": false, "tickSize": -3.5, "domain": false, "title": null}},
        "stroke": {"field": "set", "type": "nominal",
          "scale": {"domain": ["CT18 NNLO", "CT18A NNLO", "CT18Z NNLO"], "range": ["#7474dc", "#c03cc0", "#4a9e4a"]},
          "legend": null},
        "strokeDash": {"field": "set", "type": "nominal",
          "scale": {"domain": ["CT18 NNLO", "CT18A NNLO", "CT18Z NNLO"], "range": [[1, 0], [9, 3, 2, 3], [5, 3]]},
          "legend": null}
      }
    },
    {
      "transform": [{"filter": "datum.set !== 'CT18 NNLO'"}],
      "mark": {"type": "line", "clip": true, "strokeWidth": 1},
      "encoding": {
        "x": {"field": "x", "type": "quantitative", "axis": null},
        "y": {"field": "lo", "type": "quantitative", "axis": null},
        "stroke": {"field": "set", "type": "nominal", "legend": null},
        "strokeDash": {"field": "set", "type": "nominal", "legend": null}
      }
    },
    {
      "transform": [{"filter": "datum.set !== 'CT18 NNLO'"}],
      "mark": {"type": "line", "clip": true, "strokeWidth": 1},
      "encoding": {
        "x": {"field": "x", "type": "quantitative", "axis": null},
        "y": {"field": "hi", "type": "quantitative", "axis": null},
        "stroke": {"field": "set", "type": "nominal", "legend": null},
        "strokeDash": {"field": "set", "type": "nominal", "legend": null}
      }
    },
    {
      "data": {"values": [{"t": "(s+s̅)/(u̅+d̅) at Q =100 GeV 90%C.L."}]},
      "mark": {"type": "text", "align": "left", "baseline": "alphabetic", "font": "Liberation Serif", "fontSize": 15.5, "color": "black"},
      "encoding": {
        "x": {"datum": 0.00022, "type": "quantitative", "axis": null},
        "y": {"datum": 0.05, "type": "quantitative", "axis": null},
        "text": {"field": "t"}
      }
    }
  ]
}
